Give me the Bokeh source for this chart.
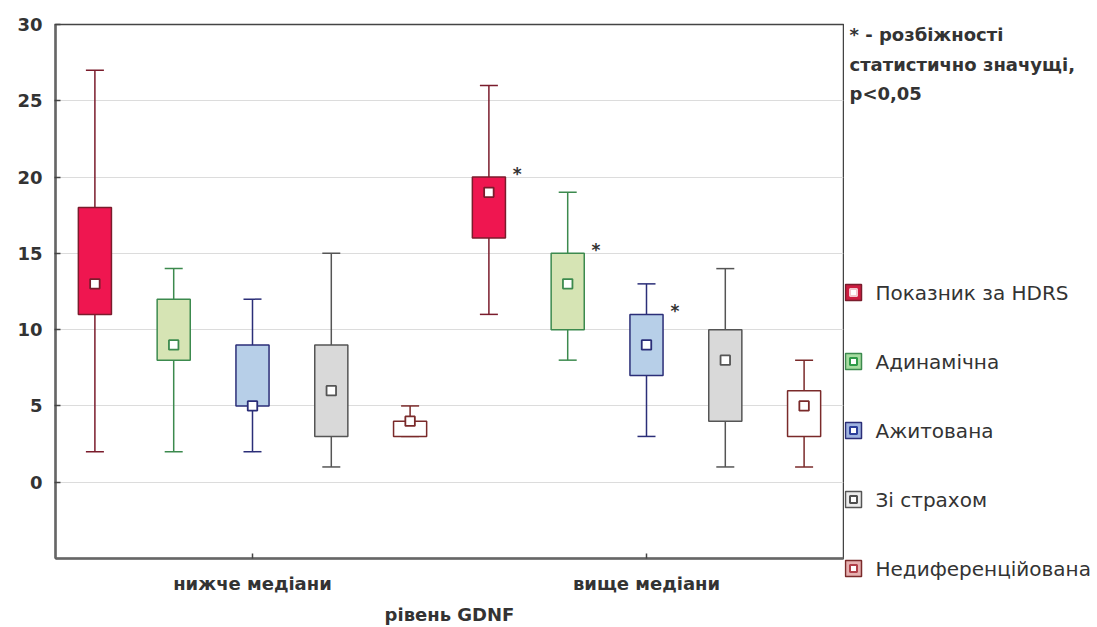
from bokeh.plotting import figure
from bokeh.models import FactorRange, Range1d, ColumnDataSource, FixedTicker
from bokeh.transform import dodge
from bokeh.layouts import row, column
from bokeh.embed import file_html
from bokeh.resources import INLINE
from bokeh.core.properties import value

# ---------------- data ----------------
groups = ["нижче медіани", "вище медіани"]
series = ["Показник за HDRS", "Адинамічна", "Ажитована", "Зі страхом", "Недиференційована"]

low_below = [2, 2, 2, 1, 3]
q1_below = [11, 8, 5, 3, 3]
median_below = [13, 9, 5, 6, 4]
q3_below = [18, 12, 9, 9, 4]
high_below = [27, 14, 12, 15, 5]

low_above = [11, 8, 3, 1, 1]
q1_above = [16, 10, 7, 4, 3]
median_above = [19, 13, 9, 8, 5]
q3_above = [20, 15, 11, 10, 6]
high_above = [26, 19, 13, 14, 8]

significant_above = [True, True, True, False, False]

y_ticks = [0, 5, 10, 15, 20, 25, 30]
note_lines = ["* - розбіжності", "статистично значущі,", "p<0,05"]
x_label = "рівень GDNF"

# ---------------- style ----------------
fills = ["#ef1650", "#d6e4b4", "#b7cfe8", "#d9d9d9", "#ffffff"]
lines = ["#7a1c2c", "#3c8a4e", "#2b2e78", "#555555", "#7a2a2a"]
legend_fills = ["#cc1d40", "#a6dca0", "#9fb3e0", "#ececec", "#e6b0b0"]
legend_inner = ["#f2c8cf", "#2f9a48", "#2c3f9a", "#505050", "#b0404a"]
FONT = "DejaVu Sans"
TXT = "#333333"
AX = "#666666"

p = figure(width=844, height=627, x_range=FactorRange(*groups, range_padding=0),
           y_range=Range1d(-5, 30), output_backend="svg", toolbar_location=None,
           min_border_left=55, min_border_right=1, min_border_top=24, min_border_bottom=69)
p.outline_line_color = "#444444"
p.outline_line_width = 1.5
p.xgrid.grid_line_color = None
p.ygrid.grid_line_color = "#dcdcdc"
p.ygrid.grid_line_width = 1.2
p.yaxis.ticker = FixedTicker(ticks=y_ticks)
for ax in (p.xaxis[0], p.yaxis[0]):
    ax.axis_line_color = AX
    ax.axis_line_width = 2.5
    ax.major_tick_line_color = "#444444"
    ax.major_tick_line_width = 1.5
    ax.minor_tick_line_color = None
    ax.major_label_text_font = FONT
    ax.major_label_text_font_size = "18px"
    ax.major_label_text_font_style = "bold"
    ax.major_label_text_color = TXT
p.yaxis.major_tick_in = 5
p.yaxis.major_tick_out = 1
p.yaxis.major_label_standoff = 12
p.xaxis.major_tick_in = 5
p.xaxis.major_tick_out = 0
p.xaxis.major_label_standoff = 14
p.xaxis.axis_label = x_label
p.xaxis.axis_label_text_font = FONT
p.xaxis.axis_label_text_font_size = "18px"
p.xaxis.axis_label_text_font_style = "bold"
p.xaxis.axis_label_text_color = TXT
p.xaxis.axis_label_standoff = 7

n = len(series)
for i in range(n):
    off = (i - (n - 1) / 2) * 0.2
    src = ColumnDataSource(dict(
        g=groups,
        lo=[low_below[i], low_above[i]],
        q1=[q1_below[i], q1_above[i]],
        med=[median_below[i], median_above[i]],
        q3=[q3_below[i], q3_above[i]],
        hi=[high_below[i], high_above[i]],
    ))
    xs = dodge("g", off, range=p.x_range)
    p.segment(x0=xs, y0="lo", x1=xs, y1="hi", source=src, line_color=lines[i], line_width=1.5)
    p.scatter(x=xs, y="lo", source=src, marker="dash", size=18, line_color=lines[i], line_width=1.5)
    p.scatter(x=xs, y="hi", source=src, marker="dash", size=18, line_color=lines[i], line_width=1.5)
    p.vbar(x=xs, bottom="q1", top="q3", width=0.084, source=src,
           fill_color=fills[i], line_color=lines[i], line_width=1.5)
    p.scatter(x=xs, y="med", source=src, marker="square", size=9.5,
              fill_color="#ffffff", line_color=lines[i], line_width=1.8)
    if significant_above[i]:
        ssrc = ColumnDataSource(dict(g=[groups[1]], y=[q3_above[i]], t=["*"]))
        p.text(x=dodge("g", off + 0.072, range=p.x_range), y="y", text="t", source=ssrc,
               text_font=value(FONT), text_font_size="17px", text_font_style="bold",
               text_color=TXT, text_align="center", text_baseline="middle", y_offset=-3)

# ---------------- side panel: note + legend (coordinates = page pixels) ----------------
s = figure(width=253, height=627, x_range=Range1d(0, 253), y_range=Range1d(627, 0),
           output_backend="svg", toolbar_location=None, min_border=0,
           x_axis_location=None, y_axis_location=None)
s.outline_line_color = None
s.grid.grid_line_color = None

note_src = ColumnDataSource(dict(x=[5] * len(note_lines),
                                 y=[34 + 29.5 * k for k in range(len(note_lines))],
                                 t=note_lines))
s.text(x="x", y="y", text="t", source=note_src, text_font=value(FONT),
       text_font_size="18px", text_font_style="bold", text_color=TXT, text_baseline="middle")

leg_src = ColumnDataSource(dict(
    x=[9] * n, tx=[31] * n,
    y=[292 + 69 * k for k in range(n)],
    t=series, f=legend_fills, l=lines, inner=legend_inner,
))
s.scatter(x="x", y="y", source=leg_src, marker="square", size=16,
          fill_color="f", line_color="l", line_width=1.5)
s.scatter(x="x", y="y", source=leg_src, marker="square", size=7,
          fill_color="#ffffff", line_color="inner", line_width=2)
s.text(x="tx", y="y", text="t", source=leg_src, text_font=value(FONT),
       text_font_size="20px", text_color=TXT, text_baseline="middle")

layout = row(p, column(s))
open("out.html", "w").write(file_html(layout, INLINE))
